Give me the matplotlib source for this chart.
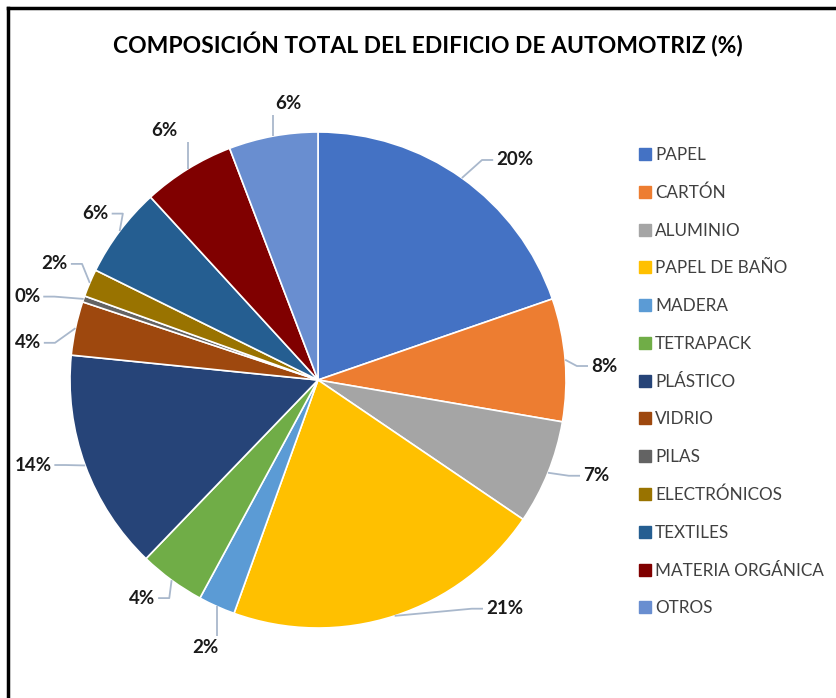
import numpy as np
import matplotlib.pyplot as plt
from matplotlib.lines import Line2D

# Composition values (%)
categories = ['PAPEL', 'CARTÓN', 'ALUMINIO', 'PAPEL DE BAÑO', 'MADERA', 'TETRAPACK',
              'PLÁSTICO', 'VIDRIO', 'PILAS', 'ELECTRÓNICOS', 'TEXTILES',
              'MATERIA ORGÁNICA', 'OTROS']
values = [19.7, 8.0, 6.8, 21.0, 2.4, 4.3, 14.4, 3.5, 0.4, 1.8, 5.9, 6.0, 5.8]

colors = ['#4472C4', '#ED7D31', '#A5A5A5', '#FFC000', '#5B9BD5', '#70AD47',
          '#264478', '#9E480E', '#636363', '#997300', '#255E91', '#800000', '#698ED0']

# label placement: angle (deg clockwise from top), radius, leader style (layout only)
lab_ang = [41.8, 87.2, 109.0, 140.8, 202.9, 218.9, 253.4, 277.3, 286.0, 293.8, 306.8, 328.4, 353.8]
lab_rad = [1.19, 1.155, 1.186, 1.19, 1.17, 1.13, 1.2, 1.18, 1.22, 1.16, 1.12, 1.18, 1.12]
lab_mode = ['h', 'h', 'h', 'h', 'v', 'h', 'h', 'h', 'h', 'h', 'h', 'v', 'v']

plt.rcParams['font.family'] = ['Lato', 'DejaVu Sans']

fig = plt.figure(figsize=(8.37, 6.98), dpi=100)
ax = fig.add_axes([0, 0, 636 / 837, 636 / 698])

wedges, _ = ax.pie(values, colors=colors, startangle=90, counterclock=False,
                   wedgeprops=dict(edgecolor='white', linewidth=1.2))
L = 318 / 248
ax.set_xlim(-L, L)
ax.set_ylim(-L, L)
ax.set_aspect('equal')

total = sum(values)
mids = []
texts = []
cum = 0
for i, v in enumerate(values):
    mids.append((cum + v / 2) / total * 360)
    cum += v
    b = np.deg2rad(lab_ang[i])
    lx, ly = lab_rad[i] * np.sin(b), lab_rad[i] * np.cos(b)
    t = ax.text(lx, ly, '%d%%' % round(v), ha='center', va='center',
                fontsize=13.5, fontweight='bold', color='#1a1a1a')
    texts.append(t)

# leader lines from wedge edge to label
fig.canvas.draw()
rend = fig.canvas.get_renderer()
inv = ax.transData.inverted()
pad = 0.012
stub = 0.045
for i, t in enumerate(texts):
    a = np.deg2rad(mids[i])
    ex, ey = np.sin(a), np.cos(a)
    bb = t.get_window_extent(rend).transformed(inv)
    lx, ly = t.get_position()
    if lab_mode[i] == 'h':
        if lx > ex:
            x2 = bb.x0 - pad
            x1 = x2 - stub
        else:
            x2 = bb.x1 + pad
            x1 = x2 + stub
        xs, ys = [ex, x1, x2], [ey, ly, ly]
    else:
        y2 = bb.y0 - pad if ly > ey else bb.y1 + pad
        xs, ys = [ex, ex], [ey, y2]
    ax.plot(xs, ys, color='#a9b8cc', lw=1.3, solid_capstyle='butt', zorder=1)

handles = [Line2D([], [], marker='s', linestyle='none', markersize=8,
                  markerfacecolor=c, markeredgecolor=c) for c in colors]
fig.legend(handles, categories, loc='upper left', bbox_to_anchor=(631 / 837, 1 - 140 / 698),
           frameon=False, fontsize=12.3, labelcolor='#404040', handlelength=0.8,
           handletextpad=0.2, labelspacing=1.27, borderaxespad=0)

fig.text(428 / 837, 1 - 45 / 698, 'COMPOSICIÓN TOTAL DEL EDIFICIO DE AUTOMOTRIZ (%)',
         ha='center', va='center', fontsize=16.5, fontweight='bold', color='#000000')

# frame lines on top and left
fig.add_artist(Line2D([8 / 837, 1], [1 - 8 / 698, 1 - 8 / 698], color='black', lw=2.5))
fig.add_artist(Line2D([8 / 837, 8 / 837], [0, 1 - 8 / 698], color='black', lw=2.5))

fig.savefig('out.png', dpi=100)
